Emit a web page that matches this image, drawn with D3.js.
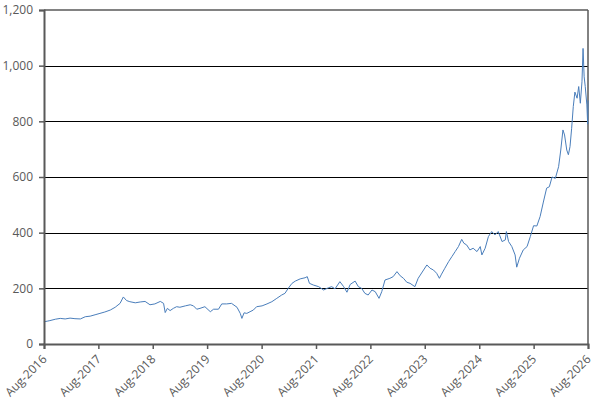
<!DOCTYPE html>
<html>
<head>
<meta charset="utf-8">
<script src="https://cdn.jsdelivr.net/npm/d3@7"></script>
<style>
  html, body { margin: 0; padding: 0; background: #fff; }
  svg { display: block; }
  text { font-family: "Open Sans", "Liberation Sans", sans-serif; }
</style>
</head>
<body>
<svg id="chart" width="595" height="409"></svg>
<script>
// Time as decimal years
const years = [
  2016.58, 2016.64, 2016.69, 2016.79, 2016.88, 2016.97, 2017.06, 2017.15, 2017.25, 2017.34,
  2017.43, 2017.52, 2017.61, 2017.70, 2017.80, 2017.89, 2017.98, 2018.04, 2018.10, 2018.16,
  2018.26, 2018.35, 2018.44, 2018.53, 2018.62, 2018.72, 2018.78, 2018.81, 2018.85, 2018.90,
  2018.96, 2019.02, 2019.08, 2019.18, 2019.27, 2019.33, 2019.39, 2019.45, 2019.54, 2019.64,
  2019.70, 2019.79, 2019.85, 2019.94, 2020.03, 2020.13, 2020.19, 2020.22, 2020.26, 2020.31,
  2020.37, 2020.43, 2020.49, 2020.59, 2020.68, 2020.77, 2020.86, 2020.95, 2021.01, 2021.07,
  2021.14, 2021.20, 2021.29, 2021.38, 2021.42, 2021.46, 2021.53, 2021.63, 2021.72, 2021.81,
  2021.87, 2021.93, 2022.02, 2022.09, 2022.15, 2022.21, 2022.30, 2022.36, 2022.42, 2022.48,
  2022.54, 2022.61, 2022.67, 2022.74, 2022.79, 2022.85, 2022.94, 2023.00, 2023.07, 2023.13,
  2023.19, 2023.25, 2023.31, 2023.40, 2023.46, 2023.56, 2023.62, 2023.68, 2023.74, 2023.80,
  2023.85, 2023.89, 2023.95, 2024.02, 2024.08, 2024.14, 2024.20, 2024.26, 2024.30, 2024.35,
  2024.41, 2024.47, 2024.54, 2024.60, 2024.63, 2024.69, 2024.75, 2024.81, 2024.87, 2024.93,
  2025.00, 2025.06, 2025.08, 2025.12, 2025.18, 2025.24, 2025.27, 2025.32, 2025.39, 2025.46,
  2025.52, 2025.58, 2025.64, 2025.70, 2025.76, 2025.82, 2025.87, 2025.92, 2025.98, 2026.04,
  2026.08, 2026.12, 2026.15, 2026.19, 2026.22, 2026.25, 2026.28, 2026.31, 2026.34, 2026.38,
  2026.41, 2026.44, 2026.47, 2026.49, 2026.51, 2026.53, 2026.56, 2026.575, 2026.583
];
const values = [
  80, 82, 84, 89, 92, 90, 93, 91, 90, 98,
  100, 105, 110, 115, 122, 132, 146, 169, 156, 152,
  148, 151, 153, 141, 144, 153, 146, 113, 128, 120,
  128, 134, 132, 137, 141, 137, 125, 128, 134, 116,
  125, 125, 144, 144, 146, 132, 110, 92, 112, 110,
  116, 122, 134, 137, 144, 152, 164, 176, 182, 200,
  218, 226, 234, 238, 242, 218, 212, 206, 194, 202,
  206, 198, 224, 206, 186, 214, 226, 206, 200, 182,
  176, 194, 188, 164, 188, 230, 236, 242, 260, 245,
  236, 222, 218, 206, 236, 266, 284, 272, 266, 254,
  236, 251, 272, 296, 314, 332, 350, 376, 362, 356,
  338, 344, 332, 350, 320, 344, 386, 404, 392, 404,
  368, 374, 404, 368, 350, 320, 276, 308, 338, 350,
  386, 425, 424, 458, 510, 560, 565, 600, 595, 637,
  697, 769, 751, 697, 680, 709, 775, 853, 905, 883,
  925, 865, 942, 1062, 960, 925, 859, 790, 875
];
const yTicks = [0, 200, 400, 600, 800, 1000, 1200];
const xTickYears = [2016, 2017, 2018, 2019, 2020, 2021, 2022, 2023, 2024, 2025, 2026];
const xTickLabels = ["Aug-2016", "Aug-2017", "Aug-2018", "Aug-2019", "Aug-2020", "Aug-2021",
                     "Aug-2022", "Aug-2023", "Aug-2024", "Aug-2025", "Aug-2026"];

function toDate(y) {
  const yr = Math.floor(y);
  const s = new Date(yr, 0, 1), e = new Date(yr + 1, 0, 1);
  return new Date(+s + (y - yr) * (e - s));
}

const data = years.map((y, i) => ({ date: toDate(y), value: values[i] }));
const tickDates = xTickYears.map(y => new Date(y, 7, 1));

const W = 595, H = 409;
const margin = { top: 10, right: 7, bottom: 65, left: 44 };
const svg = d3.select("#chart");

const x = d3.scaleTime()
  .domain([tickDates[0], tickDates[tickDates.length - 1]])
  .range([margin.left, W - margin.right]);
const y = d3.scaleLinear()
  .domain([0, 1200])
  .range([H - margin.bottom, margin.top]);

// gridlines
svg.append("g")
  .selectAll("line")
  .data(yTicks.filter(v => v > 0 && v < 1200))
  .join("line")
  .attr("x1", margin.left).attr("x2", W - margin.right)
  .attr("y1", d => Math.round(y(d)) + 0.5).attr("y2", d => Math.round(y(d)) + 0.5)
  .attr("stroke", "#000").attr("stroke-width", 1);

// top & right border
svg.append("line")
  .attr("x1", margin.left).attr("x2", W - margin.right)
  .attr("y1", y(1200)).attr("y2", y(1200))
  .attr("stroke", "#595959").attr("stroke-width", 1.5);
svg.append("line")
  .attr("x1", W - margin.right).attr("x2", W - margin.right)
  .attr("y1", y(1200)).attr("y2", y(0))
  .attr("stroke", "#595959").attr("stroke-width", 1.5);

// line
const line = d3.line().x(d => x(d.date)).y(d => y(d.value));
svg.append("path")
  .datum(data)
  .attr("fill", "none")
  .attr("stroke", "#4a7ebb")
  .attr("stroke-width", 1)
  .attr("stroke-linejoin", "round")
  .attr("d", line);

// y axis
const yAxis = d3.axisLeft(y)
  .tickValues(yTicks)
  .tickSize(5)
  .tickPadding(6)
  .tickFormat(d3.format(","));
const gy = svg.append("g")
  .attr("transform", `translate(${margin.left},0)`)
  .call(yAxis);
gy.select(".domain").attr("stroke", "#595959").attr("stroke-width", 2);
gy.selectAll(".tick line").attr("stroke", "#595959").attr("stroke-width", 1.5);
gy.selectAll(".tick text").attr("fill", "#595959").attr("font-size", 12)
  .attr("font-family", "'Open Sans', 'Liberation Sans', sans-serif");

// x axis
const xAxis = d3.axisBottom(x)
  .tickValues(tickDates)
  .tickSize(5)
  .tickFormat((d, i) => xTickLabels[i]);
const gx = svg.append("g")
  .attr("transform", `translate(0,${y(0)})`)
  .call(xAxis);
gx.select(".domain").attr("stroke", "#595959").attr("stroke-width", 2);
gx.selectAll(".tick line").attr("stroke", "#595959").attr("stroke-width", 1.5);
gx.selectAll(".tick text")
  .attr("fill", "#595959").attr("font-size", 12)
  .attr("font-family", "'Open Sans', 'Liberation Sans', sans-serif")
  .attr("text-anchor", "end")
  .attr("dy", null)
  .attr("y", 0)
  .attr("transform", "translate(3,16) rotate(-45)");
</script>
</body>
</html>
